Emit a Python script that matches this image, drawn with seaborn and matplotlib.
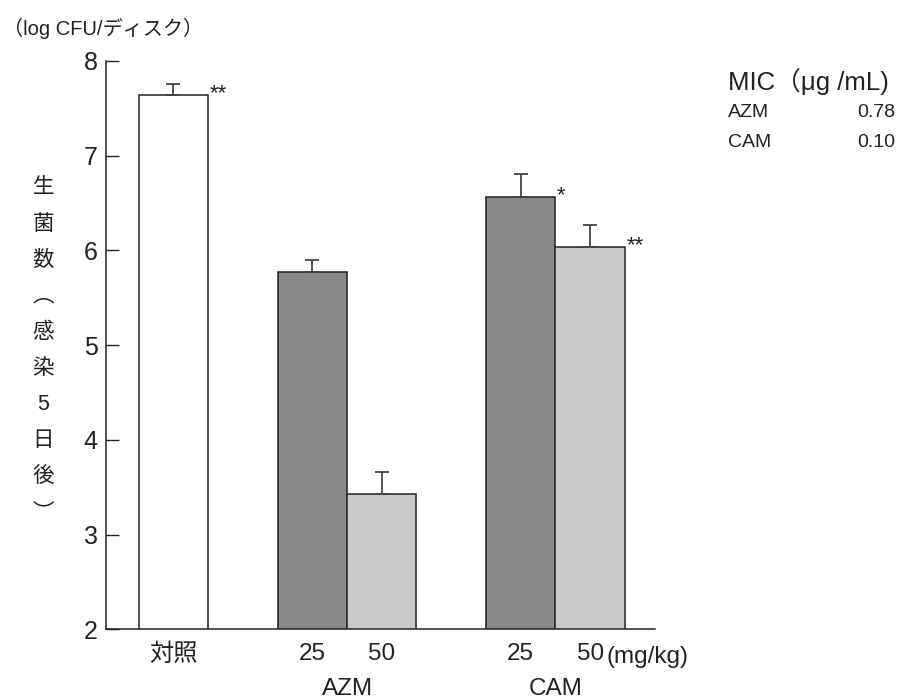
import numpy as np
import pandas as pd
import matplotlib
matplotlib.use("Agg")
import matplotlib.pyplot as plt
import seaborn as sns

# data
groups = ["対照", "AZM25", "AZM50", "CAM25", "CAM50"]
means = [7.64, 5.77, 3.43, 6.56, 6.04]
errs = [0.12, 0.13, 0.23, 0.25, 0.23]
stars = ["**", "", "", "*", "**"]
tick_text = ["対照", "25", "50", "25", "50"]
mic_drugs = ["AZM", "CAM"]
mic_values = ["0.78", "0.10"]

sns.set_theme(style="ticks")
plt.rcParams["font.family"] = ["Liberation Sans", "Noto Sans CJK JP"]
ink = "#222222"

order = ["対照", "_gap1", "AZM25", "AZM50", "_gap2", "CAM25", "CAM50"]
palette = {"対照": "white", "AZM25": "#888888", "AZM50": "#c9c9c9",
           "CAM25": "#888888", "CAM50": "#c9c9c9", "_gap1": "white", "_gap2": "white"}
df = pd.DataFrame({"group": groups, "value": means})

fig = plt.figure(figsize=(8.99, 7.0), dpi=100)
ax = fig.add_axes([0.118, 0.101, 0.611, 0.812])

sns.barplot(data=df, x="group", y="value", order=order, hue="group",
            palette=palette, width=1.0, edgecolor=ink, linewidth=1.1,
            legend=False, ax=ax)

pos = {g: order.index(g) for g in groups}

for g, m, e, s in zip(groups, means, errs, stars):
    x = pos[g]
    ax.errorbar(x, m, yerr=[[0], [e]], fmt="none", ecolor="#444444",
                elinewidth=1.3, capsize=4.8, capthick=1.3, zorder=1)
    if s:
        ax.annotate(s, xy=(x + 0.5, m), xytext=(1, -3), textcoords="offset points",
                    ha="left", va="baseline", fontsize=16, color=ink)

ax.set_ylim(2, 8)
ax.set_xlim(-0.97, 6.94)
ax.set_yticks([2, 3, 4, 5, 6, 7, 8])
ax.tick_params(axis="y", direction="in", length=9.5, width=1, labelsize=18, pad=6,
               colors=ink)
ax.set_xticks([pos[g] for g in groups])
ax.set_xticklabels(tick_text, fontsize=17.5, color=ink)
ax.tick_params(axis="x", length=0, pad=10)
ax.set_xlabel("")
ax.set_ylabel("")
for sp in ["left", "bottom"]:
    ax.spines[sp].set_color(ink)
    ax.spines[sp].set_linewidth(1.1)
sns.despine(ax=ax)

# unit text next to last tick
ax.annotate("(mg/kg)", xy=(pos["CAM50"], 2), xycoords="data", xytext=(12, -12),
            textcoords="offset points", ha="left", va="top", fontsize=17.5, color=ink)
ax.text((pos["AZM25"] + pos["AZM50"]) / 2, -0.085, "AZM", transform=ax.get_xaxis_transform(),
        ha="center", va="top", fontsize=17.5, color=ink)
ax.text((pos["CAM25"] + pos["CAM50"]) / 2, -0.085, "CAM", transform=ax.get_xaxis_transform(),
        ha="center", va="top", fontsize=17.5, color=ink)

# unit label top-left
fig.text(0.003, 0.96, "（log CFU/ディスク）", ha="left", va="center", fontsize=14.5, color=ink)

# y label written vertically, one character per line
ylab = "生菌数︵感染5日後︶"
for i, ch in enumerate(ylab):
    fig.text(0.048, 1 - (188 + i * 36.1) / 700, ch, ha="center", va="center",
             fontsize=15.5, color=ink)

# MIC box
fig.text(0.81, 0.883, "MIC（μg /mL)", ha="left", va="center", fontsize=18.5, color=ink)
for i, (d, v) in enumerate(zip(mic_drugs, mic_values)):
    y = 0.839 - i * 0.042
    fig.text(0.81, y, d, ha="left", va="center", fontsize=14, color=ink)
    fig.text(0.996, y, v, ha="right", va="center", fontsize=14, color=ink)

fig.savefig("out.png", dpi=100, facecolor="white")
